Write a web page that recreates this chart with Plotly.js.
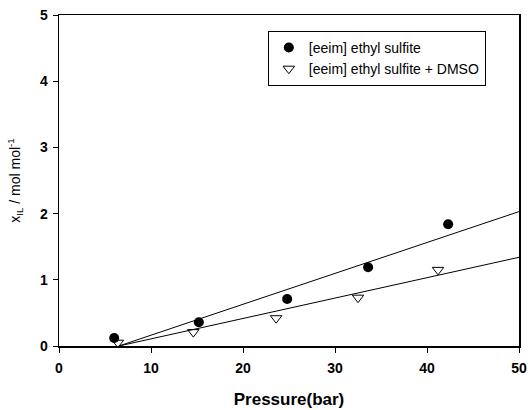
<!DOCTYPE html>
<html>
<head>
<meta charset="utf-8">
<script src="https://cdn.plot.ly/plotly-3.0.1.min.js"></script>
<style>html,body{margin:0;padding:0;background:#fff;}#chart{width:531px;height:410px;}</style>
</head>
<body>
<div id="chart"></div>
<script>
// Data
const seriesNames = ["[eeim] ethyl sulfite", "[eeim] ethyl sulfite + DMSO"];
const pressureA = [6.0, 15.2, 24.8, 33.6, 42.3];
const valueA    = [0.12, 0.36, 0.71, 1.19, 1.84];
const pressureB = [6.4, 14.6, 23.6, 32.5, 41.2];
const valueB    = [0.05, 0.21, 0.42, 0.73, 1.15];
// fitted lines (endpoints)
const fitAx = [6.5, 50];
const fitAy = [0.0, 2.03];
const fitBx = [6.5, 50];
const fitBy = [0.0, 1.34];
const xTicks = [0, 10, 20, 30, 40, 50];
const yTicks = [0, 1, 2, 3, 4, 5];

const traces = [
  {x: fitAx, y: fitAy, mode: 'lines', line: {color: '#000', width: 1}, showlegend: false, hoverinfo: 'skip'},
  {x: fitBx, y: fitBy, mode: 'lines', line: {color: '#000', width: 1}, showlegend: false, hoverinfo: 'skip'},
  {x: pressureA, y: valueA, mode: 'markers', name: seriesNames[0],
   marker: {symbol: 'circle', size: 10, color: '#000'}},
  {x: pressureB, y: valueB, mode: 'markers', name: seriesNames[1],
   marker: {symbol: 'triangle-down-open', size: 10, color: '#000', line: {width: 1, color: '#000'}}}
];

const axisCommon = {
  showgrid: false, zeroline: false, showline: true, linecolor: '#000', linewidth: 1.5,
  mirror: true, ticks: 'outside', ticklen: 5, tickwidth: 1, tickcolor: '#000',
  tickfont: {family: 'Arial, Liberation Sans, sans-serif', size: 14, color: '#000', weight: 'bold'}
};

const layout = {
  width: 531, height: 410,
  margin: {l: 59, r: 12, t: 15, b: 64},
  paper_bgcolor: '#fff', plot_bgcolor: '#fff',
  font: {family: 'Arial, Liberation Sans, sans-serif', color: '#000'},
  xaxis: Object.assign({}, axisCommon, {
    range: [0, 50], tickvals: xTicks, ticktext: xTicks.map(String), ticklabelstandoff: 4,
    title: {text: '<b>Pressure(bar)</b>', font: {size: 17, color: '#000'}, standoff: 18}
  }),
  yaxis: Object.assign({}, axisCommon, {
    range: [0, 5], tickvals: yTicks, ticktext: yTicks.map(String), ticklabelstandoff: 2,
    title: {text: 'x<sub>IL</sub> / mol mol<sup>-1</sup>', font: {size: 14, color: '#000'}, standoff: 16}
  }),
  showlegend: true,
  legend: {
    x: 0.454, y: 0.952, xanchor: 'left', yanchor: 'top',
    bordercolor: '#000', borderwidth: 1, bgcolor: '#fff',
    font: {size: 14, color: '#000'},
    entrywidth: 196, itemwidth: 30
  }
};

Plotly.newPlot('chart', traces, layout, {displayModeBar: false, staticPlot: true});
</script>
</body>
</html>
